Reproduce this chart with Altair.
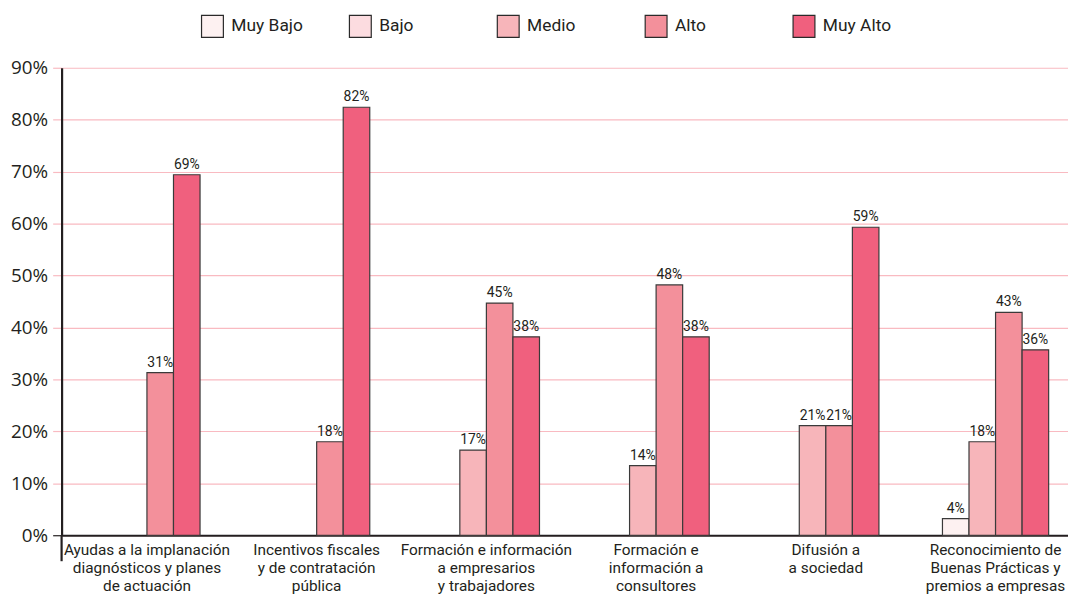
import altair as alt
import pandas as pd

categories = [
    "Ayudas a la implanación|diagnósticos y planes|de actuación",
    "Incentivos fiscales|y de contratación|pública",
    "Formación e información|a empresarios|y trabajadores",
    "Formación e|información a|consultores",
    "Difusión a|a sociedad",
    "Reconocimiento de|Buenas Prácticas y|premios a empresas",
]
series = ["Muy Bajo", "Bajo", "Medio", "Alto", "Muy Alto"]
colors = ["#FDF1F1", "#FCDCE0", "#F7B5BA", "#F3909B", "#F0607E"]

# bar heights (%); None = no bar
muy_bajo = [None, None, None, None, None, 3.2]
bajo = [None, None, None, None, None, None]
medio = [None, None, 16.4, 13.4, 21.1, 18.0]
alto = [31.3, 18.0, 44.7, 48.2, 21.1, 42.9]
muy_alto = [69.4, 82.4, 38.2, 38.2, 59.3, 35.7]

# printed labels
muy_bajo_lbl = [None, None, None, None, None, 4]
bajo_lbl = [None, None, None, None, None, None]
medio_lbl = [None, None, 17, 14, 21, 18]
alto_lbl = [31, 18, 45, 48, 21, 43]
muy_alto_lbl = [69, 82, 38, 38, 59, 36]

y_ticks = [0, 10, 20, 30, 40, 50, 60, 70, 80, 90]
slot_order = ["Muy Bajo", "Medio", "Alto", "Muy Alto"]

rows = []
for s, vals, lbls in zip(series,
                         [muy_bajo, bajo, medio, alto, muy_alto],
                         [muy_bajo_lbl, bajo_lbl, medio_lbl, alto_lbl, muy_alto_lbl]):
    for c, v, l in zip(categories, vals, lbls):
        if v is not None:
            rows.append({"cat": c, "serie": s, "value": v, "label": f"{l}%"})
df = pd.DataFrame(rows)

COND = "Roboto, sans-serif"
REG = "Open Sans, Noto Sans, sans-serif"
DARK = "#231F20"
PINK = "#F9BAC1"

x_enc = alt.X(
    "cat:N", sort=categories, title=None,
    scale=alt.Scale(paddingInner=0.3743, paddingOuter=0.152, align=0.625),
    axis=alt.Axis(
        labelExpr="split(datum.label, '|')",
        labelAngle=0, labelFont=COND, labelFontSize=15.5, labelLineHeight=18.5,
        labelColor=DARK, labelPadding=7, ticks=False,
        domainColor=DARK, domainWidth=2.2, labelLimit=300,
    ),
)
xo_enc = alt.XOffset("serie:N", scale=alt.Scale(domain=slot_order, paddingInner=0, paddingOuter=0))
y_enc = alt.Y(
    "value:Q", title=None,
    scale=alt.Scale(domain=[0, 90], nice=False),
    axis=alt.Axis(
        values=y_ticks, labelExpr="datum.value + '%'",
        labelFont=REG, labelFontSize=19, labelColor=DARK, labelPadding=5,
        tickSize=9, tickWidth=1.2,
        tickColor={"condition": {"test": "datum.value === 0", "value": DARK}, "value": PINK},
        gridColor=PINK, gridWidth=1.2,
        domainColor=DARK, domainWidth=2.2,
    ),
)

bars = alt.Chart(df).mark_bar(stroke="#3A3A3A", strokeWidth=1.2).encode(
    x=x_enc, xOffset=xo_enc, y=y_enc,
    color=alt.Color(
        "serie:N",
        scale=alt.Scale(domain=series, range=colors),
        legend=alt.Legend(
            title=None, orient="none", legendX=140, legendY=-54,
            direction="horizontal", columns=5, gridAlign="all", columnPadding=43,
            symbolType="square", symbolSize=484, symbolStrokeColor="#2A2A2A",
            symbolStrokeWidth=1.2, symbolOpacity=1,
            labelFont=COND, labelFontSize=17.5, labelColor=DARK, labelOffset=7,
        ),
    ),
)

texts = alt.Chart(df).mark_text(
    baseline="bottom", dy=-3, font=COND, fontSize=14, color=DARK
).encode(x=x_enc, xOffset=xo_enc, y="value:Q", text="label:N")

axis_ext = alt.Chart(pd.DataFrame({"v": [0]})).mark_rule(color=DARK, strokeWidth=2.2).encode(
    x=alt.value(0), y=alt.datum(0), y2=alt.datum(-5)
)

chart = alt.layer(bars, texts, axis_ext).properties(
    width=1014, height=471,
    padding={"left": 54, "top": 58, "right": 0, "bottom": 58},
    autosize=alt.AutoSizeParams(type="none"),
).configure_view(stroke=None)

chart.save("out.html", embed_options={"renderer": "svg", "actions": False})
